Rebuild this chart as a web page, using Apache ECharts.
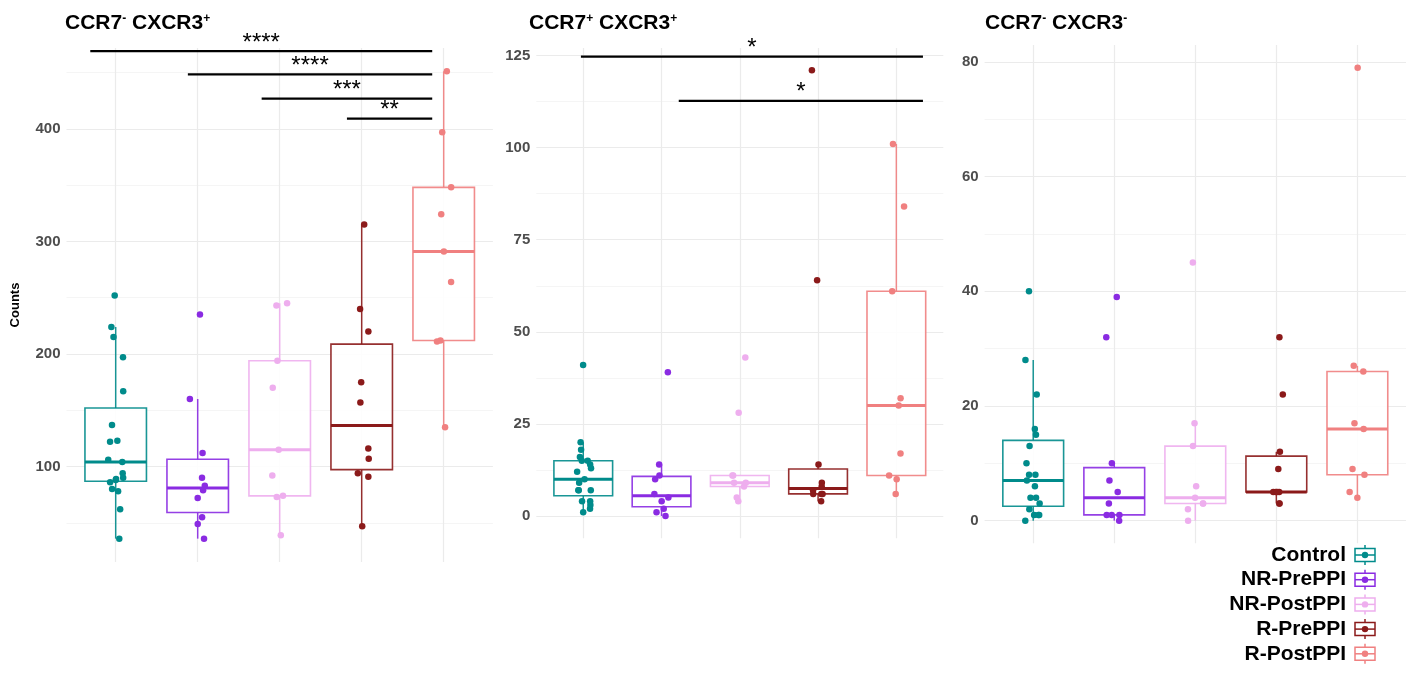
<!DOCTYPE html>
<html><head><meta charset="utf-8">
<script src="https://cdn.jsdelivr.net/npm/echarts@6/dist/echarts.min.js"></script>
<style>html,body{margin:0;padding:0;background:#fff}#chart{width:1406px;height:674px}</style>
</head><body><div id="chart"></div>
<script>
// ---------- DATA ----------
const groups = ['Control', 'NR-PrePPI', 'NR-PostPPI', 'R-PrePPI', 'R-PostPPI'];
const colors = ['#008B8B', '#8A2BE2', '#EEAEEE', '#8B1A1A', '#F08080'];

// Panel 1: CCR7- CXCR3+
const p1Control = [252, 224, 215, 197, 167, 137, 123, 122, 106, 104, 94, 90, 89, 88, 86, 80, 78, 62, 36];
const p1NRPre   = [235, 160, 112, 90, 83, 79, 72, 55, 49, 36];
const p1NRPost  = [245, 243, 194, 170, 115, 92, 74, 73, 39];
const p1RPre    = [315, 240, 220, 175, 157, 116, 107, 94, 91, 47];
const p1RPost   = [451, 397, 348, 324, 291, 264, 212, 211, 135];
const p1Ticks = [100, 200, 300, 400];
const p1Minor = [50, 150, 250, 350, 450];
const p1Sig = [[-0.31, 3.86, 469, '****'], [0.88, 3.86, 448.4, '****'], [1.78, 3.86, 426.8, '***'], [2.82, 3.86, 409, '**']];

// Panel 2: CCR7+ CXCR3+
const p2Control = [41, 20, 18, 16, 15, 15, 14, 13, 12, 10, 9, 7, 7, 7, 4, 4, 3, 2, 1];
const p2NRPre   = [39, 14, 11, 10, 6, 5, 4, 2, 1, 0];
const p2NRPost  = [43, 28, 11, 11, 9, 9, 8, 5, 4];
const p2RPre    = [121, 64, 14, 9, 8, 7, 6, 6, 6, 4];
const p2RPost   = [101, 84, 61, 32, 30, 17, 11, 10, 6];
const p2Ticks = [0, 25, 50, 75, 100, 125];
const p2Minor = [12.5, 37.5, 62.5, 87.5, 112.5];
const p2Sig = [[-0.03, 4.34, 124.7, '*'], [1.22, 4.34, 112.7, '*']];

// Panel 3: CCR7- CXCR3-
const p3Control = [40, 28, 22, 16, 15, 13, 10, 8, 8, 7, 6, 4, 4, 3, 2, 1, 1, 1, 0];
const p3NRPre   = [39, 32, 10, 7, 5, 3, 1, 1, 1, 0];
const p3NRPost  = [45, 17, 13, 6, 4, 3, 3, 2, 0];
const p3RPre    = [32, 22, 12, 9, 5, 5, 5, 5, 3, 3];
const p3RPost   = [79, 27, 26, 17, 16, 9, 8, 5, 4];
const p3Ticks = [0, 20, 40, 60, 80];
const p3Minor = [10, 30, 50, 70];
const p3Sig = [];

const panels = [
  { title: ['CCR7', '-', ' CXCR3', '+'], data: [p1Control, p1NRPre, p1NRPost, p1RPre, p1RPost], ticks: p1Ticks, minor: p1Minor, sig: p1Sig },
  { title: ['CCR7', '+', ' CXCR3', '+'], data: [p2Control, p2NRPre, p2NRPost, p2RPre, p2RPost], ticks: p2Ticks, minor: p2Minor, sig: p2Sig },
  { title: ['CCR7', '-', ' CXCR3', '-'], data: [p3Control, p3NRPre, p3NRPost, p3RPre, p3RPost], ticks: p3Ticks, minor: p3Minor, sig: p3Sig }
];

// ---------- LAYOUT ----------
const FONT = 'Liberation Sans, Arial, sans-serif';
const gridsPos = [
  { left: 66.5, right: 913.1, top: 48, bottom: 112 },
  { left: 536.3, right: 462.7, top: 48, bottom: 135.7 },
  { left: 984.6, right: 0, top: 45, bottom: 130.7 }
];
const titleLeft = [60, 524, 980];

function quantile(sorted, p) {
  const H = (sorted.length - 1) * p;
  const lo = Math.floor(H), e = H - lo;
  return lo + 1 < sorted.length ? sorted[lo] + e * (sorted[lo + 1] - sorted[lo]) : sorted[lo];
}
function boxStats(vals) {
  const s = vals.slice().sort((a, b) => a - b);
  const q1 = quantile(s, 0.25), md = quantile(s, 0.5), q3 = quantile(s, 0.75);
  const iqr = q3 - q1;
  const lo = Math.min(...s.filter(v => v >= q1 - 1.5 * iqr));
  const hi = Math.max(...s.filter(v => v <= q3 + 1.5 * iqr));
  return [lo, q1, md, q3, hi];
}
function jitter(g, i, p) {
  const h = Math.sin((g + 1) * 12.9898 + (i + 1) * 78.233 + (p + 1) * 37.719) * 43758.5453;
  return ((h - Math.floor(h)) - 0.5) * 0.2;
}

const grid = [], xAxis = [], yAxis = [], series = [], title = [];
panels.forEach((pn, k) => {
  grid.push(Object.assign({ containLabel: false }, gridsPos[k]));
  xAxis.push({
    gridIndex: k, type: 'value', min: -0.6, max: 4.6,
    axisLine: { show: false }, axisTick: { show: false, customValues: [0, 1, 2, 3, 4] },
    axisLabel: { show: false, customValues: [0, 1, 2, 3, 4] },
    splitLine: { show: true, lineStyle: { color: '#EBEBEB', width: 1.2 } }
  });
  const all = [].concat(...pn.data);
  const dmin = Math.min(...all), dmax = Math.max(...all);
  const r = dmax - dmin;
  const ymin = dmin - 0.05 * r, ymax = dmax + 0.05 * r;
  yAxis.push({
    gridIndex: k, type: 'value', min: ymin, max: ymax, position: 'left',
    axisLine: { show: false }, axisTick: { show: false, customValues: pn.ticks },
    axisLabel: { customValues: pn.ticks, margin: 6, fontSize: 15, fontWeight: 'bold', color: '#4D4D4D', fontFamily: FONT },
    splitLine: { show: true, lineStyle: { color: '#EBEBEB', width: 1.2 } }
  });
  title.push({
    left: titleLeft[k], top: 8,
    text: '{m|' + pn.title[0] + '}{s|' + pn.title[1] + '}{m|' + pn.title[2] + '}{s|' + pn.title[3] + '}',
    textStyle: {
      rich: {
        m: { fontSize: 21, fontWeight: 'bold', color: '#000', fontFamily: FONT },
        s: { fontSize: 12, fontWeight: 'bold', color: '#000', fontFamily: FONT, verticalAlign: 'top' }
      }
    }
  });
});
// minor grid axes
panels.forEach((pn, k) => {
  const base = yAxis[k];
  yAxis.push({
    gridIndex: k, type: 'value', min: base.min, max: base.max, position: 'left',
    axisLine: { show: false }, axisTick: { show: false, customValues: pn.minor },
    axisLabel: { show: false, customValues: pn.minor },
    splitLine: { show: true, lineStyle: { color: '#F3F3F3', width: 0.8 } }
  });
});

panels.forEach((pn, k) => {
  // boxes
  const boxData = pn.data.map((vals, g) => [g].concat(boxStats(vals)).concat([g]));
  series.push({
    type: 'custom', xAxisIndex: k, yAxisIndex: k, z: 2, silent: true,
    data: boxData,
    renderItem: function (params, api) {
      const x = api.value(0);
      const lo = api.coord([x, api.value(1)]), q1 = api.coord([x, api.value(2)]);
      const md = api.coord([x, api.value(3)]), q3 = api.coord([x, api.value(4)]);
      const hi = api.coord([x, api.value(5)]);
      const w = api.size([0.75, 0])[0];
      const c = colors[api.value(6)];
      return {
        type: 'group', children: [
          { type: 'line', shape: { x1: lo[0], y1: lo[1], x2: q1[0], y2: q1[1] }, style: { stroke: c, lineWidth: 1.5, opacity: 0.9 } },
          { type: 'line', shape: { x1: q3[0], y1: q3[1], x2: hi[0], y2: hi[1] }, style: { stroke: c, lineWidth: 1.5, opacity: 0.9 } },
          { type: 'rect', shape: { x: q1[0] - w / 2, y: q3[1], width: w, height: q1[1] - q3[1] }, style: { stroke: c, fill: '#fff', lineWidth: 1.6, opacity: 0.9 } },
          { type: 'line', shape: { x1: md[0] - w / 2, y1: md[1], x2: md[0] + w / 2, y2: md[1] }, style: { stroke: c, lineWidth: 3 } }
        ]
      };
    }
  });
  // points
  pn.data.forEach((vals, g) => {
    series.push({
      type: 'scatter', xAxisIndex: k, yAxisIndex: k, z: 3, silent: true,
      symbolSize: 6.5, itemStyle: { color: colors[g], opacity: 1 },
      data: vals.map((v, i) => [g + jitter(g, i, k), v])
    });
  });
  // significance bars
  if (pn.sig.length) {
    series.push({
      type: 'custom', xAxisIndex: k, yAxisIndex: k, z: 4, silent: true,
      data: pn.sig.map(s => [s[0], s[1], s[2]]),
      renderItem: function (params, api) {
        const a = api.coord([api.value(0), api.value(2)]);
        const b = api.coord([api.value(1), api.value(2)]);
        const lbl = pn.sig[params.dataIndex][3];
        return {
          type: 'group', children: [
            { type: 'line', shape: { x1: a[0], y1: a[1], x2: b[0], y2: b[1] }, style: { stroke: '#000', lineWidth: 2.2 } },
            { type: 'text', x: (a[0] + b[0]) / 2, y: a[1] + 4, style: { text: lbl, fontSize: 24, fontFamily: FONT, fill: '#000', align: 'center', verticalAlign: 'bottom' } }
          ]
        };
      }
    });
  }
});

// legend + axis title graphics
const graphic = [{
  type: 'text', x: 15, y: 305, rotation: Math.PI / 2,
  style: { text: 'Counts', fontSize: 13, fontWeight: 'bold', fontFamily: FONT, fill: '#000', align: 'center', verticalAlign: 'middle' }
}];
groups.forEach((name, i) => {
  const y = 555 + 24.7 * i;
  graphic.push({
    type: 'text', x: 1346, y: y,
    style: { text: name, fontSize: 21, fontWeight: 'bold', fontFamily: FONT, fill: '#000', align: 'right', verticalAlign: 'middle' }
  });
  graphic.push({
    type: 'group', x: 1365, y: y, children: [
      { type: 'line', shape: { x1: 0, y1: -10, x2: 0, y2: -6.5 }, style: { stroke: colors[i], lineWidth: 1.5 } },
      { type: 'line', shape: { x1: 0, y1: 6.5, x2: 0, y2: 10 }, style: { stroke: colors[i], lineWidth: 1.5 } },
      { type: 'rect', shape: { x: -10, y: -6.5, width: 20, height: 13 }, style: { stroke: colors[i], fill: '#fff', lineWidth: 1.5 } },
      { type: 'line', shape: { x1: -10, y1: 0, x2: 10, y2: 0 }, style: { stroke: colors[i], lineWidth: 1.5 } },
      { type: 'circle', shape: { cx: 0, cy: 0, r: 3.2 }, style: { fill: colors[i] } }
    ]
  });
});

const chart = echarts.init(document.getElementById('chart'), null, { renderer: 'canvas' });
chart.setOption({
  animation: false,
  backgroundColor: '#fff',
  title: title,
  grid: grid,
  xAxis: xAxis,
  yAxis: yAxis,
  series: series,
  graphic: graphic
});
</script>
</body></html>
